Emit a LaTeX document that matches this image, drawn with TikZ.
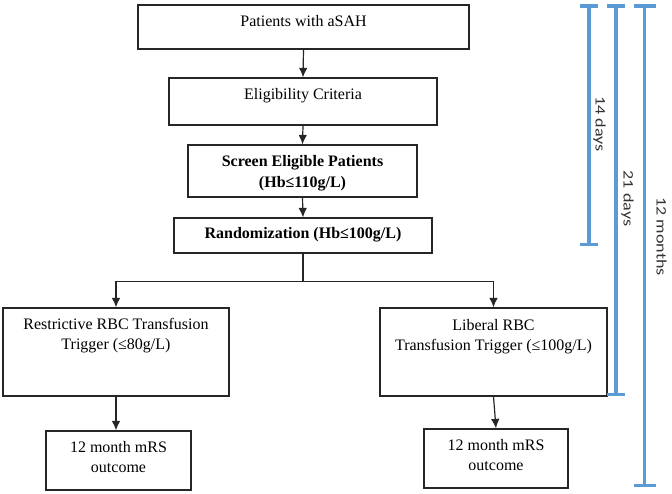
\documentclass[tikz,border=0pt]{standalone}
\usepackage{fontspec}
\setmainfont{Liberation Serif}
\newfontfamily\spanfont{Carlito}
\usetikzlibrary{arrows.meta}
\definecolor{spanblue}{RGB}{91,155,213}
\begin{document}
\begin{tikzpicture}[x=1pt,y=-1pt,
    box/.style={draw=black!85,line width=1.2pt,inner sep=0pt},
    txt/.style={anchor=north,align=center,inner sep=0pt,font=\fontsize{16}{20}\selectfont},
    boldtxt/.style={txt,font=\fontsize{16}{21}\selectfont\bfseries},
    link/.style={draw=black!85,line width=1.2pt},
    flow/.style={link,-{Latex[length=9.5pt,width=8.5pt]}},
    span/.style={draw=spanblue,line width=3.5pt},
    spantxt/.style={rotate=-90,xscale=1.25,inner sep=0pt,text=black!80,
      font=\spanfont\fontsize{14.5}{17}\selectfont}]
  \useasboundingbox (0,0) rectangle (672,493);
  % flow boxes
  \node[box,minimum width=331pt,minimum height=44pt] (pat) at (303.5,27) {};
  \node[box,minimum width=268pt,minimum height=47pt] (elig) at (303,101.5) {};
  \node[box,minimum width=229pt,minimum height=52pt] (scr) at (302.5,171) {};
  \node[box,minimum width=258pt,minimum height=35pt] (rand) at (303,235.5) {};
  \node[box,minimum width=226pt,minimum height=88pt] (restr) at (116,352) {};
  \node[box,minimum width=227pt,minimum height=88pt] (lib) at (493.5,352) {};
  \node[box,minimum width=145pt,minimum height=59pt] (lout) at (118.5,460.5) {};
  \node[box,minimum width=144pt,minimum height=59pt] (rout) at (496,458.5) {};
  \node[txt] (pat-t) at ([yshift=-10.5pt]pat.north) {Patients with aSAH};
  \node[txt] (elig-t) at ([yshift=-11pt]elig.north) {Eligibility Criteria};
  \node[boldtxt] (scr-t) at ([yshift=-10.5pt]scr.north) {Screen Eligible Patients\\(Hb≤110g/L)};
  \node[boldtxt] (rand-t) at ([yshift=-9.5pt]rand.north) {Randomization (Hb≤100g/L)};
  \node[txt] (restr-t) at ([yshift=-11pt]restr.north) {Restrictive RBC Transfusion\\Trigger (≤80g/L)};
  \node[txt] (lib-t) at ([yshift=-11.5pt]lib.north) {Liberal RBC\\Transfusion Trigger (≤100g/L)};
  \node[txt] (lout-t) at ([yshift=-11pt]lout.north) {12 month mRS\\outcome};
  \node[txt] (rout-t) at ([yshift=-11pt]rout.north) {12 month mRS\\outcome};
  % connectors
  \draw[flow] (pat.south) -- (elig.north);
  \draw[flow] (elig.south) -- (scr.north);
  \draw[flow] (scr.south) -- (rand.north);
  \coordinate (split) at ([yshift=-28pt]rand.south);
  \draw[link] (rand.south) -- (split);
  \draw[flow] (split) -| (restr.north);
  \draw[flow] (split) -| (lib.north);
  \draw[flow] (restr.south) -- (restr.south |- lout.north);
  \draw[flow] (lib.south) -- (rout.north);
  % time spans
  \coordinate (d14a) at (589,4);   \coordinate (d14b) at (589,246);
  \coordinate (d21a) at (616,4);   \coordinate (d21b) at (616,396);
  \coordinate (m12a) at (644.5,4); \coordinate (m12b) at (644.5,487);
  \draw[span,{Bar[width=18pt]}-{Bar[width=18pt]}] (d14a) -- (d14b);
  \draw[span,{Bar[width=18pt]}-{Bar[width=18pt]}] (d21a) -- (d21b);
  \draw[span,{Bar[width=22pt]}-{Bar[width=22pt]}] (m12a) -- (m12b);
  \node[spantxt] (d14) at (599.5,124) {14 days};
  \node[spantxt] (d21) at (627.5,198.5) {21 days};
  \node[spantxt] (m12) at (661.5,236.5) {12 months};
\end{tikzpicture}
\end{document}
